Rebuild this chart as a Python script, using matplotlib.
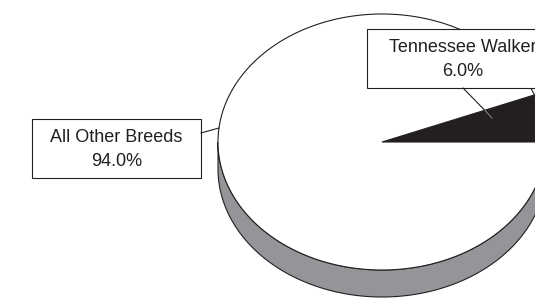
import matplotlib
matplotlib.use('Agg')
import matplotlib.pyplot as plt
from matplotlib.patches import Polygon, Rectangle
import numpy as np

plt.rcParams['font.family'] = ['Liberation Sans', 'DejaVu Sans']

breeds = ['Tennessee Walker', 'All Other Breeds']
shares = [6.0, 94.0]
colors = ['#231f20', 'white']

# pie geometry in pixel units
cx, cy = 382, 142
a, b = 164, 128
depth = 27


def ell(theta):
    return cx + a * np.cos(theta), cy - b * np.sin(theta)


fig = plt.figure(figsize=(5.35, 2.99), dpi=100)
ax = fig.add_axes([0, 0, 1, 1])
ax.set_xlim(0, 535)
ax.set_ylim(299, 0)
ax.axis('off')

# side of the pie (front half)
t = np.linspace(np.pi, 2 * np.pi, 200)
x, y = ell(t)
side = np.column_stack([np.r_[x, x[::-1]], np.r_[y, y[::-1] + depth]])
ax.add_patch(Polygon(side, closed=True, fc='#939598', ec='#231f20', lw=0.8))

# top wedges
start = 0.0
for share, col in zip(shares, colors):
    sweep = share / 100 * 2 * np.pi
    t = np.linspace(start, start + sweep, 300)
    x, y = ell(t)
    pts = np.column_stack([np.r_[cx, x], np.r_[cy, y]])
    ax.add_patch(Polygon(pts, closed=True, fc=col, ec='#231f20', lw=0.8))
    start += sweep

# leader lines
ax.plot([463, 485], [88, 110.5], color='#231f20', lw=0.8)
ax.plot([485, 492], [110.5, 118], color='#999999', lw=0.6)
ax.plot([201, 219], [133, 128], color='#231f20', lw=0.8)

# label boxes
boxes = [(367, 29, 192, 59), (32, 119, 169, 59)]
for (bx, by, bw, bh), name, share in zip(boxes, breeds, shares):
    ax.add_patch(Rectangle((bx, by), bw, bh, fc='white', ec='#231f20', lw=0.8))
    ax.text(bx + bw / 2, by + bh / 2 + 1, f'{name}\n{share:.1f}%', ha='center', va='center',
            fontsize=13, color='#231f20', linespacing=1.5)

fig.savefig('out.png', dpi=100)
